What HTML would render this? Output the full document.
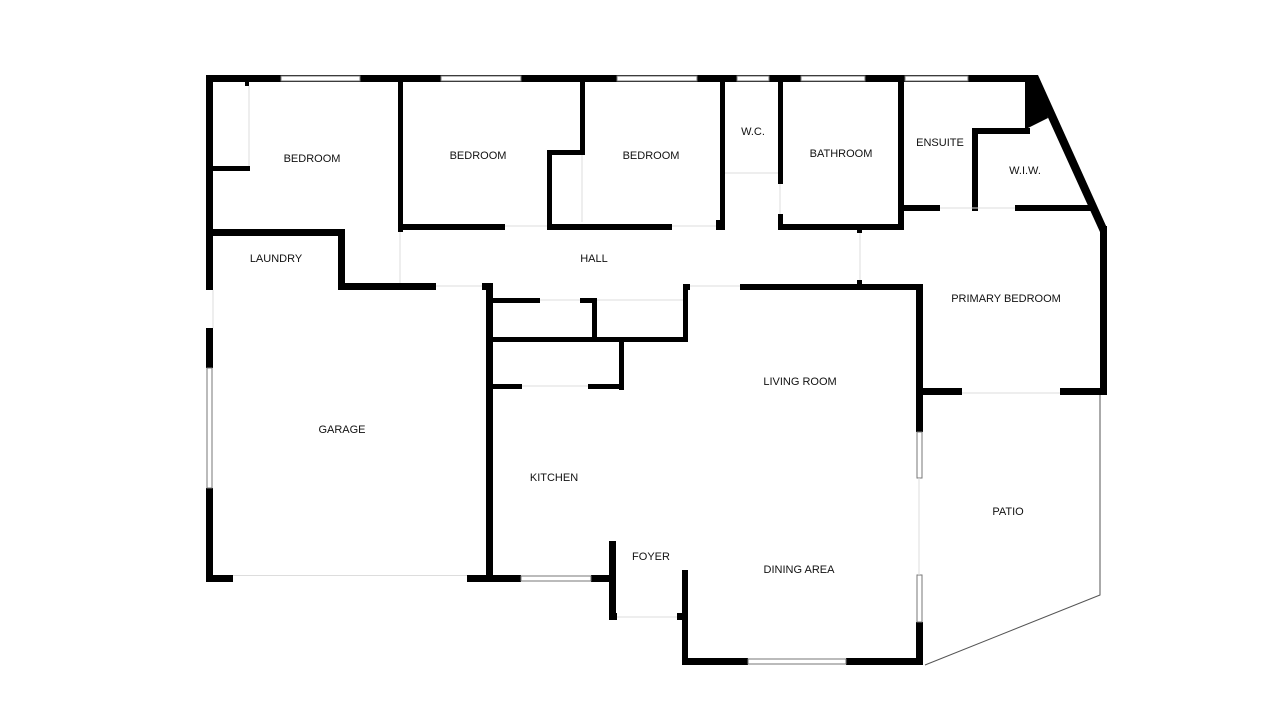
<!DOCTYPE html>
<html><head><style>html,body{margin:0;padding:0;background:#fff}svg{display:block}text{font-family:"Liberation Sans",sans-serif;font-size:11px;fill:#111;text-anchor:middle;dominant-baseline:middle}</style></head>
<body>
<svg width="1280" height="720" viewBox="0 0 1280 720" xmlns="http://www.w3.org/2000/svg">
<g fill="#000">
<!-- top outer wall -->
<rect x="206" y="75" width="829" height="7"/>
<!-- left wall -->
<rect x="206" y="75" width="7" height="215"/>
<rect x="206" y="328" width="7" height="40"/>
<rect x="206" y="488" width="7" height="94"/>
<!-- garage bottom -->
<rect x="206" y="575" width="27" height="7"/>
<rect x="467" y="575" width="54" height="7"/>
<rect x="591" y="575" width="25" height="7"/>
<!-- bedroom1 closet -->
<rect x="213" y="166" width="37" height="5"/>
<rect x="245" y="82" width="4" height="4"/>
<!-- bed1/bed2 wall -->
<rect x="398" y="82" width="5" height="150"/>
<!-- laundry -->
<rect x="206" y="229" width="139" height="7"/>
<rect x="338" y="229" width="7" height="61"/>
<rect x="338" y="283" width="98" height="7"/>
<rect x="482" y="283" width="11" height="7"/>
<!-- hall top walls -->
<rect x="398" y="224" width="107" height="6"/>
<rect x="547" y="224" width="125" height="6"/>
<rect x="716" y="220" width="9" height="10"/>
<!-- bed2/3 closet -->
<rect x="547" y="150" width="5" height="80"/>
<rect x="547" y="150" width="38" height="5"/>
<rect x="580" y="82" width="5" height="73"/>
<!-- bed3 / wc -->
<rect x="720" y="82" width="5" height="148"/>
<rect x="778" y="82" width="5" height="102"/>
<rect x="778" y="214" width="5" height="16"/>
<rect x="778" y="224" width="126" height="6"/>
<rect x="898" y="82" width="6" height="148"/>
<rect x="857" y="228" width="5" height="5"/>
<!-- ensuite/wiw -->
<rect x="898" y="205" width="42" height="6"/>
<rect x="972" y="128" width="6" height="83"/>
<rect x="972" y="128" width="58" height="6"/>
<rect x="1015" y="205" width="76" height="6"/>
<polygon points="1025,80 1036,75 1048,118 1028,128 1025,128"/>
<!-- diagonal outer -->
<polygon points="1030,75 1038,75 1107,228 1100,232 1030,78"/>
<rect x="1100" y="226" width="7" height="169"/>
<!-- primary bottom -->
<rect x="916" y="388" width="46" height="7"/>
<rect x="1060" y="388" width="47" height="7"/>
<!-- hall bottom right -->
<rect x="740" y="284" width="183" height="6"/>
<rect x="857" y="280" width="5" height="6"/>
<rect x="916" y="284" width="7" height="148"/>
<rect x="916" y="622" width="7" height="43"/>
<!-- kitchen left / closets -->
<rect x="486" y="283" width="7" height="299"/>
<rect x="493" y="298" width="47" height="5"/>
<rect x="580" y="298" width="17" height="5"/>
<rect x="592" y="298" width="5" height="42"/>
<rect x="493" y="337" width="195" height="5"/>
<rect x="683" y="284" width="5" height="58"/>
<rect x="683" y="284" width="7" height="6"/>
<rect x="619" y="337" width="5" height="53"/>
<rect x="493" y="384" width="29" height="5"/>
<rect x="588" y="384" width="36" height="5"/>
<!-- foyer -->
<rect x="609" y="541" width="7" height="79"/>
<rect x="609" y="613" width="8" height="7"/>
<rect x="677" y="613" width="9" height="7"/>
<rect x="682" y="570" width="6" height="95"/>
<rect x="682" y="658" width="66" height="7"/>
<rect x="846" y="658" width="77" height="7"/>
</g>
<!-- windows -->
<g fill="#fff" stroke="#777" stroke-width="1">
<rect x="281" y="76" width="79" height="5"/>
<rect x="441" y="76" width="80" height="5"/>
<rect x="617" y="76" width="80" height="5"/>
<rect x="737" y="76" width="32" height="5"/>
<rect x="801" y="76" width="64" height="5"/>
<rect x="905" y="76" width="63" height="5"/>
<rect x="207" y="368" width="5" height="120"/>
<rect x="521" y="576" width="70" height="5"/>
<rect x="748" y="659" width="98" height="5"/>
<rect x="917" y="432" width="5" height="46"/>
<rect x="917" y="575" width="5" height="47"/>
</g>
<!-- door / opening thin lines -->
<g stroke="#ddd" stroke-width="1" fill="none">
<line x1="233" y1="575.5" x2="467" y2="575.5"/>
<line x1="249" y1="86" x2="249" y2="166"/>
<line x1="400" y1="232" x2="400" y2="283"/>
<line x1="505" y1="226" x2="547" y2="226"/>
<line x1="672" y1="226" x2="716" y2="226"/>
<line x1="582" y1="155" x2="582" y2="222"/>
<line x1="725" y1="173" x2="778" y2="173"/>
<line x1="780" y1="184" x2="780" y2="214"/>
<line x1="940" y1="208" x2="1015" y2="208"/>
<line x1="860" y1="233" x2="860" y2="280"/>
<line x1="436" y1="286" x2="482" y2="286"/>
<line x1="213" y1="290" x2="213" y2="328"/>
<line x1="690" y1="286" x2="740" y2="286"/>
<line x1="540" y1="300" x2="580" y2="300"/>
<line x1="597" y1="300" x2="683" y2="300"/>
<line x1="522" y1="386" x2="588" y2="386"/>
<line x1="962" y1="393" x2="1060" y2="393"/>
<line x1="919" y1="478" x2="919" y2="575"/>
<line x1="617" y1="617" x2="677" y2="617"/>
</g>
<polyline points="1100,395 1100,595 925,665" fill="none" stroke="#555" stroke-width="1"/>
<text x="312" y="159">BEDROOM</text>
<text x="478" y="156">BEDROOM</text>
<text x="651" y="156">BEDROOM</text>
<text x="753" y="132">W.C.</text>
<text x="841" y="154">BATHROOM</text>
<text x="940" y="143">ENSUITE</text>
<text x="1025" y="171">W.I.W.</text>
<text x="276" y="259">LAUNDRY</text>
<text x="594" y="259">HALL</text>
<text x="1006" y="299">PRIMARY BEDROOM</text>
<text x="800" y="382">LIVING ROOM</text>
<text x="342" y="430">GARAGE</text>
<text x="554" y="478">KITCHEN</text>
<text x="651" y="557">FOYER</text>
<text x="799" y="570">DINING AREA</text>
<text x="1008" y="512">PATIO</text>
</svg>
</body></html>
